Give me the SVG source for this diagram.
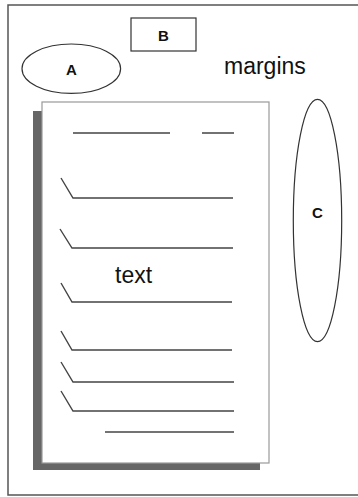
<svg xmlns="http://www.w3.org/2000/svg" width="358" height="497" viewBox="0 0 358 497">
<style>
.frame{fill:none;stroke:#555;stroke-width:1.5}
.shape{fill:#fff;stroke:#333;stroke-width:1.2}
.ln{fill:none;stroke:#444;stroke-width:1.4}
.lbl{font-family:"Liberation Sans",Arial,sans-serif;font-weight:bold;font-size:15px;fill:#111;text-anchor:middle;dominant-baseline:central}
.big{font-family:"Liberation Sans",Arial,sans-serif;font-size:23px;fill:#111}
</style>
<rect width="358" height="497" fill="#fff"/>
<g id="frame">
<path class="frame" d="M358,5 H8 V495 H358"/>
</g>
<g id="page">
<rect x="33" y="111" width="227" height="359" fill="#666"/>
<rect x="42" y="102" width="227" height="361" fill="#fff" stroke="#999" stroke-width="1.2"/>
<text class="big" x="115" y="283">text</text>
</g>
<g id="connectors">
<path class="ln" d="M73,133 H170 M202,133 H234"/>
<path class="ln" d="M61,178 L73,198 H233"/>
<path class="ln" d="M60,229 L72,248 H233"/>
<path class="ln" d="M61,283 L72,302 H232"/>
<path class="ln" d="M61,331 L72,350 H232"/>
<path class="ln" d="M61,362 L73,382 H234"/>
<path class="ln" d="M61,391 L73,411 H234"/>
<path class="ln" d="M105,432 H234"/>
</g>
<g id="nodeB">
<rect class="shape" x="131" y="18" width="65" height="33"/>
<text class="lbl" x="163.5" y="35">B</text>
</g>
<g id="nodeA">
<ellipse class="shape" cx="71.3" cy="68.7" rx="49.3" ry="24.7"/>
<text class="lbl" x="71.5" y="69">A</text>
</g>
<g id="margins">
<text class="big" x="224" y="74">margins</text>
</g>
<g id="nodeC">
<ellipse class="shape" cx="317.5" cy="220.5" rx="24.2" ry="121.2"/>
<text class="lbl" x="317.5" y="212">C</text>
</g>
</svg>
